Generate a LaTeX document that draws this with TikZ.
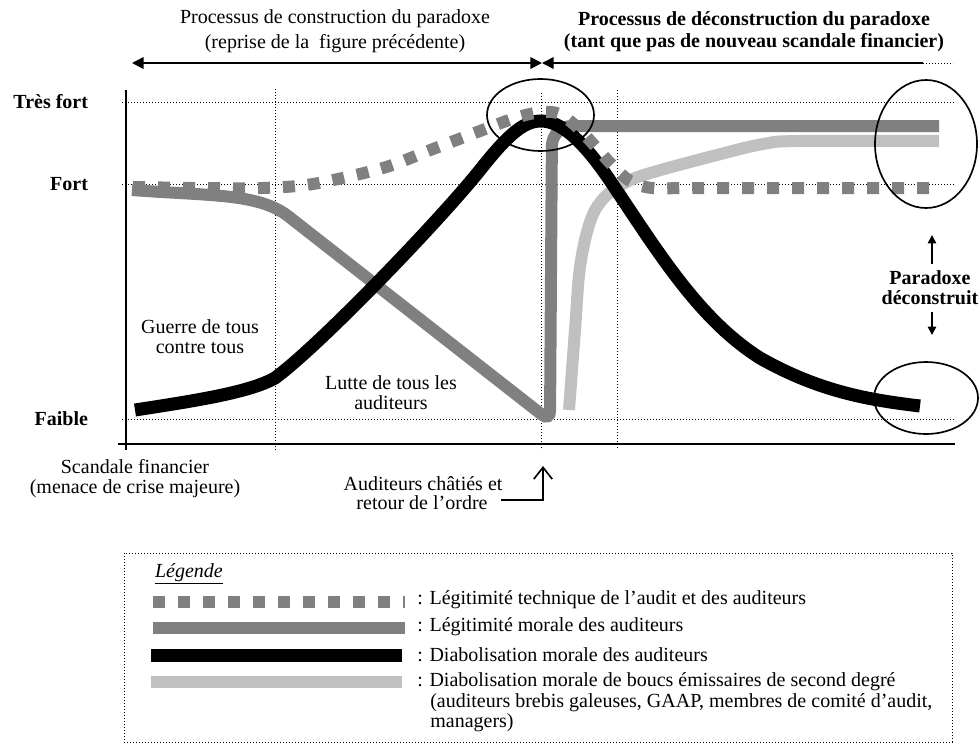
\documentclass[tikz,border=0pt]{standalone}
\usepackage{fontspec}
\setmainfont{Liberation Serif}[Scale=1.2]
\usetikzlibrary{arrows.meta}

\definecolor{grismoyen}{HTML}{808080}
\definecolor{grisclair}{HTML}{C0C0C0}

\tikzset{
  grille/.style={line width=0.6pt, dash pattern=on 0.6pt off 1.2pt},
  technique/.style={grismoyen, line width=7.2pt, dash pattern=on 7.2pt off 7.8pt},
  morale/.style={grismoyen, line width=7.2pt},
  diabol/.style={black, line width=7.8pt},
  boucs/.style={grisclair, line width=7.2pt},
  niveau/.style={font=\bfseries, anchor=east},
  legtexte/.style={anchor=west, inner sep=0pt},
  grande/.style={line width=1pt},
  petite/.style={line width=1pt, -{Triangle[length=5pt,width=5pt]}},
}

\begin{document}
\begin{tikzpicture}[x=0.6pt, y=-0.6pt]
\useasboundingbox (0,0) rectangle (980,744);

% titres
\node (titreA) at (335,19) {Processus de construction du paradoxe};
\node (titreB) at (335,44) {(reprise de la\ \ figure précédente)};
\node[font=\bfseries] (titreC) at (754,21) {Processus de déconstruction du paradoxe};
\node[font=\bfseries] (titreD) at (754,43) {(tant que pas de nouveau scandale financier)};

\coordinate (debut) at (132,63);
\coordinate (pic) at (542,63);
\coordinate (finA) at (923,63);
\coordinate (finB) at (953,63);
\draw[grande, {Triangle[length=7pt,width=7pt]}-{Triangle[length=7pt,width=7pt]}] (debut) -- (pic);
\draw[grande, {Triangle[length=7pt,width=7pt]}-] (pic) -- (finA);
\draw[grille] (finA) -- (finB);

% niveaux et grille
\node[niveau] (tresfort) at (95,102) {Très fort};
\node[niveau] (fort) at (95,184) {Fort};
\node[niveau] (faible) at (95,419) {Faible};
\draw[grille] (122,102) -- (955,102);
\draw[grille] (122,184) -- (955,184);
\draw[grille] (122,419) -- (955,419);
\draw[grille] (275,89) -- (275,450);
\draw[grille] (541,93) -- (541,450);
\draw[grille] (617,90) -- (617,448);
\draw[grande] (126,90) -- (126,450);
\draw[grande] (118,444) -- (955,444);

% courbes
\draw[boucs] plot[smooth, tension=0.6] coordinates {(569,410) (575,330) (580,267) (590,222) (603,199) (623,184) (647,174) (713,156) (763,144) (800,141) (939,141)};
\draw[morale] (132,190) .. controls (210,196) and (258,193) .. (288,216) [rounded corners=6pt] -- (550,421) [rounded corners=12pt] -- (552,126) -- (939,126);
\draw[diabol] (135,410) .. controls (200,400) and (250,392) .. (275,378)
  .. controls (320,345) and (440,220) .. (480,170)
  .. controls (510,132) and (525,121) .. (541,121)
  .. controls (565,121) and (590,150) .. (615,188)
  .. controls (660,255) and (700,320) .. (760,358)
  .. controls (820,392) and (870,400) .. (920,406);
\draw[technique] plot[smooth, tension=0.5] coordinates {(133,187) (200,188) (262,188) (313,184) (383,168) (433,149) (480,131) (515,118) (541,112) (560,114) (578,128) (595,146) (612,165) (630,181) (652,188) (700,188) (935,188)};

% ellipses
\draw[grande] (540.5,115) ellipse [x radius=53.5, y radius=36];
\draw[grande] (926,144) ellipse [x radius=51, y radius=64];
\draw[grande] (926,398) ellipse [x radius=52, y radius=36];

\node[font=\bfseries, align=center] (parad) at (930,288) {Paradoxe\\déconstruit};
\coordinate (flhaut) at (932,235);
\coordinate (flbas) at (932,335);
\draw[petite] (parad.north -| flhaut) -- (flhaut);
\draw[petite] (parad.south -| flbas) -- (flbas);

% textes du graphique
\node[align=center] (guerre) at (200,337) {Guerre de tous\\contre tous};
\node[align=center] (lutte) at (391,393) {Lutte de tous les\\auditeurs};
\node[align=center] (scandale) at (135,479) {Scandale financier\\(menace de crise majeure)};
\node (chaties) at (423,484) {Auditeurs châtiés et};
\node (ordre) at (422,503) {retour de l’ordre};
\coordinate (chat) at (543,466);
\draw[grande, -{Straight Barb[length=7pt,width=11pt]}] ([xshift=4pt,yshift=2pt]ordre.east) -| (chat);

% legende
\draw[grille] (124,553) rectangle (952,742);
\node[anchor=west] (legende) at (148,574) {\underline{\textit{Légende}}};
\draw[technique] (153,602) -- (405,602);
\draw[morale] (153,628) -- (405,628);
\draw[diabol] (151,655) -- (402,655);
\draw[boucs] (151,682) -- (402,682);
\node[legtexte] (legA) at (417,600) {: Légitimité technique de l’audit et des auditeurs};
\node[legtexte] (legB) at (417,627) {: Légitimité morale des auditeurs};
\node[legtexte] (legC) at (417,655) {: Diabolisation morale des auditeurs};
\node[legtexte] (legD) at (417,682) {: Diabolisation morale de boucs émissaires de second degré};
\node[legtexte] (legE) at (430,703) {(auditeurs brebis galeuses, GAAP, membres de comité d’audit,};
\node[legtexte] (legF) at (430,723) {managers)};
\end{tikzpicture}
\end{document}
